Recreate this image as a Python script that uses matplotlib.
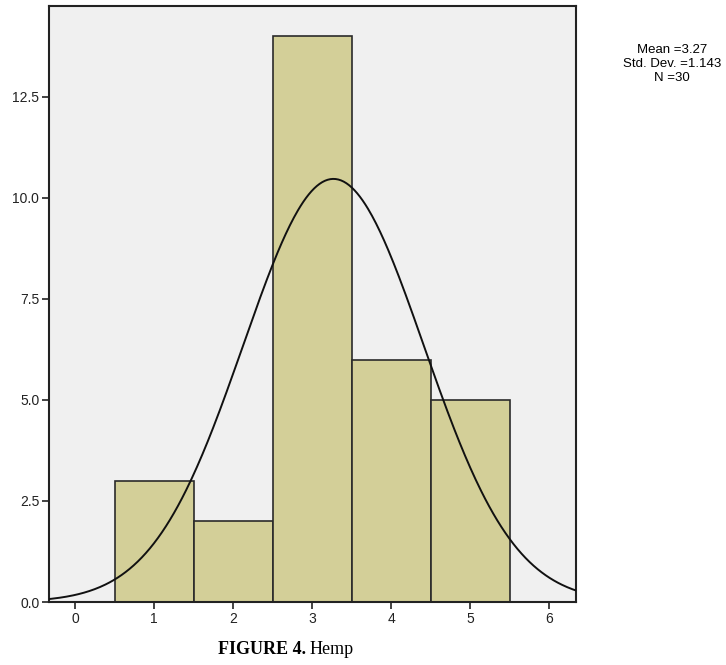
import numpy as np
import matplotlib
matplotlib.use("Agg")
import matplotlib.pyplot as plt

bin_centers = [1, 2, 3, 4, 5]
counts = [3, 2, 14, 6, 5]
mean = 3.27
std = 1.143
n = 30
xticks = [0, 1, 2, 3, 4, 5, 6]
yticks = [0.0, 2.5, 5.0, 7.5, 10.0, 12.5]

fig = plt.figure(figsize=(7.26, 6.65), dpi=100)
ax = fig.add_axes([49/726, 63/665, 527/726, 596/665])
ax.set_facecolor("#F0F0F0")
ax.bar(bin_centers, counts, width=1.0, color="#D3CF98", edgecolor="#2a2a2a", linewidth=1.2, zorder=2)
xs = np.linspace(-0.4, 6.4, 400)
ys = n * 1.0 / (std * np.sqrt(2 * np.pi)) * np.exp(-0.5 * ((xs - mean) / std) ** 2)
ax.plot(xs, ys, color="#111111", linewidth=1.4, zorder=3)
ax.set_xlim(-0.33, 6.34)
ax.set_ylim(0, 14.75)
ax.set_xticks(xticks)
ax.set_xticklabels([str(t) for t in xticks], fontsize=10, family="Liberation Sans")
ax.set_yticks(yticks)
ax.set_yticklabels([f"{t:.1f}" for t in yticks], fontsize=10, family="Liberation Sans")
ax.tick_params(direction="out", length=5, width=1.2, colors="#222222", pad=2)
for s in ax.spines.values():
    s.set_linewidth(1.5)
    s.set_color("#222222")

fig.text(672/726, 1 - 64/665, f"Mean ={mean}\nStd. Dev. ={std}\nN ={n}", ha="center", va="center",
         fontsize=9.5, family="Liberation Sans", linespacing=1.2)
fig.text(306/726, 1 - 650/665, "FIGURE 4.", ha="right", va="center", fontsize=13,
         family="Liberation Serif", fontweight="bold")
fig.text(310/726, 1 - 650/665, "Hemp", ha="left", va="center", fontsize=13,
         family="Liberation Serif")
fig.savefig("out.png", dpi=100)
